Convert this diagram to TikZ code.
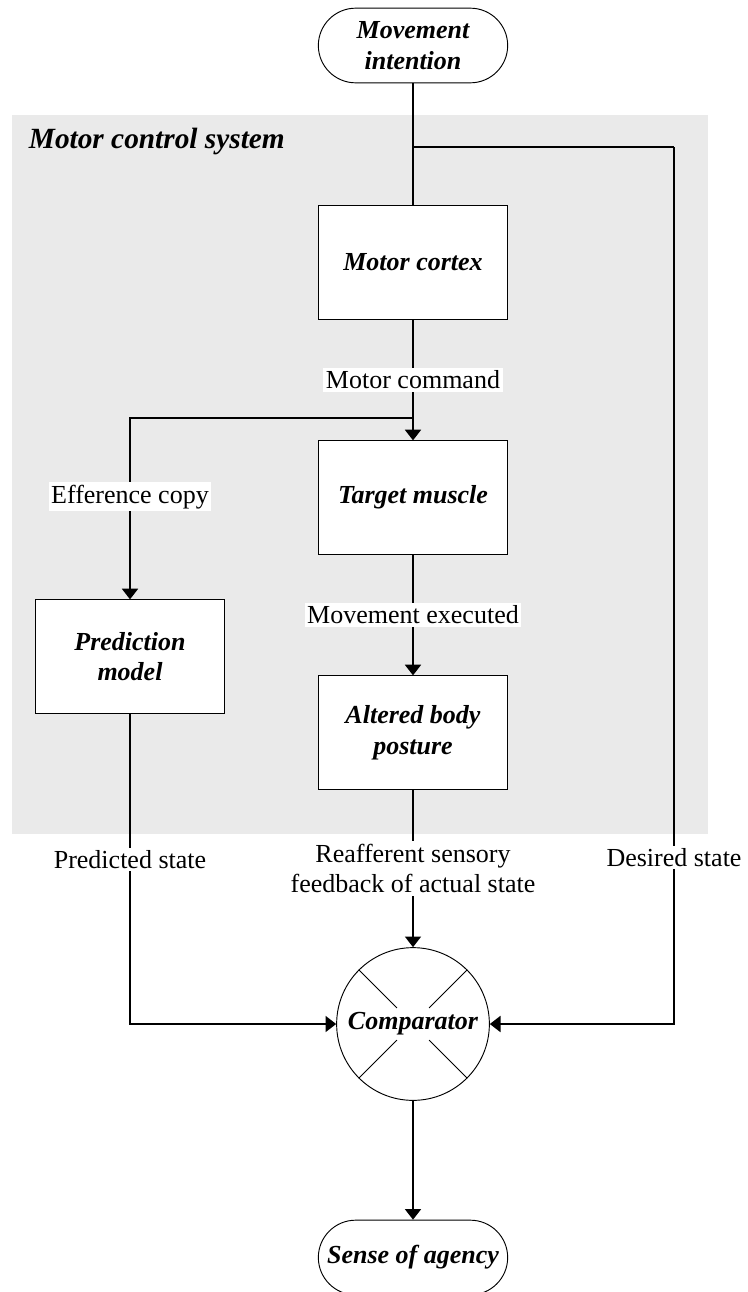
\documentclass[tikz,border=0pt]{standalone}
\usepackage{fontspec}
\setmainfont{Liberation Serif}
\usetikzlibrary{arrows.meta}

\definecolor{panelgray}{HTML}{EAEAEA}

\tikzset{
  box/.style={draw, fill=white, line width=0.7pt, minimum width=142pt, minimum height=85pt, align=center, font=\bfseries\itshape},
  term/.style={draw, fill=white, line width=0.7pt, rounded corners=28pt, minimum width=142pt, minimum height=56pt, align=center, font=\bfseries\itshape},
  flow/.style={line width=1.4pt},
  arrow/.style={flow, -{Triangle[width=12pt,length=8pt]}},
  lbl/.style={fill=white, inner sep=2pt, align=center},
}

\begin{document}
\fontsize{19.5}{23}\selectfont
\begin{tikzpicture}[x=0.75pt, y=-0.75pt]
\useasboundingbox (0,0) rectangle (748,1292);

% Motor control system panel
\fill[panelgray] (12,115) rectangle (708,834);
\node[anchor=west, font=\fontsize{22}{26}\selectfont\bfseries\itshape] (panel) at (20,141) {Motor control system};

% Blocks
\node[term] (intention) at (413,45.5) {Movement\\intention};
\node[box] (cortex) at (413,262.5) {Motor cortex};
\node[box] (target) at (413,497.5) {Target muscle};
\node[box] (pred) at (130,656.5) {Prediction\\model};
\node[box] (altered) at (413,732.5) {Altered body\\posture};
\node[draw, circle, fill=white, line width=0.7pt, minimum size=114pt, font=\bfseries\itshape] (comp) at (413,1024) {Comparator};
\node[term] (agency) at (413,1257.5) {Sense of agency};

% Comparator cross
\foreach \a in {45,135,225,315}
  \draw[line width=0.6pt] (comp.center) ++(\a:17pt) -- (comp.\a);

% Branch points
\coordinate (split1) at (413,147);
\coordinate (corner) at (674,147);
\coordinate (split2) at (413,418);

% Main column
\draw[flow] (intention) -- (cortex);
\draw[arrow] (cortex) -- node[lbl] {Motor command} (target);
\draw[arrow] (target) -- node[lbl] {Movement executed} (altered);
\draw[arrow] (altered) -- node[lbl] {Reafferent sensory\\feedback of actual state} (comp);
\draw[arrow] (comp) -- (agency);

% Efference copy
\draw[arrow] (split2) -| node[lbl, pos=0.717] {Efference copy} (pred);
\draw[arrow] (pred) |- node[lbl, pos=0.235] {Predicted state} (comp);

% Desired state
\draw[flow] (split1) -- (corner);
\draw[arrow] (corner) |- node[lbl, pos=0.405] {Desired state} (comp);

\end{tikzpicture}
\end{document}
